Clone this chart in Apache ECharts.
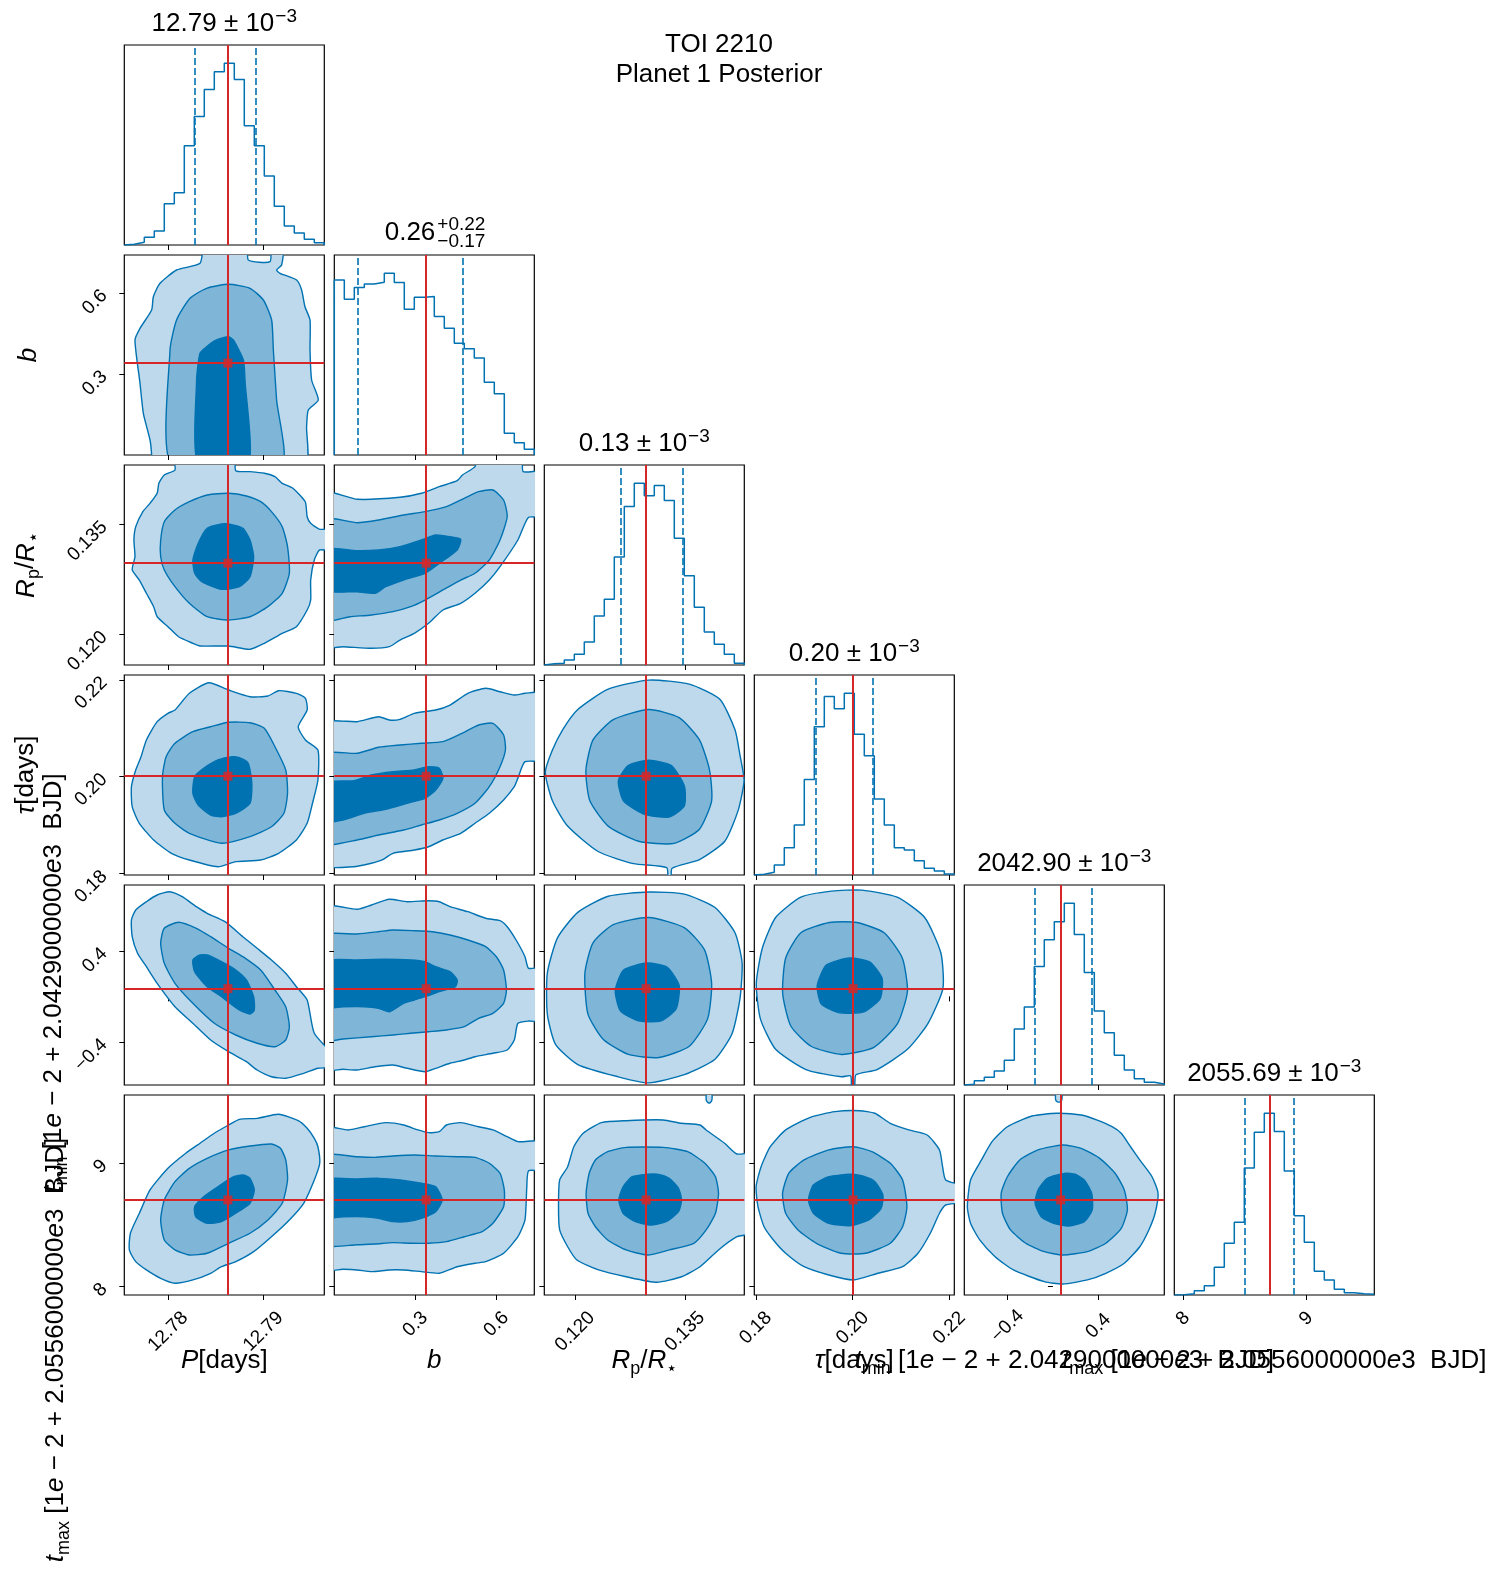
<!DOCTYPE html>
<html><head><meta charset="utf-8">
<script src="https://cdn.jsdelivr.net/npm/echarts@6/dist/echarts.min.js"></script>
<style>html,body{margin:0;padding:0;background:#fff}#chart{width:1505px;height:1590px}</style>
</head><body><div id="chart"></div>
<script>
const FONT = "'Liberation Sans', Arial, sans-serif";
const BLUE = '#0072b2', RED = '#d62728';
const FILLS = ['#bed9eb', '#7fb6d8', '#0072b2'];

// ---- parameters ----
const paramKeys = ['P', 'b', 'Rp', 'tau', 'tmin', 'tmax'];
const axisRanges = [[12.7754, 12.7964], [0, 0.74], [0.1158, 0.1431], [0.1797, 0.2210], [-0.78, 0.98], [7.93, 9.55]];
const tickValues = [[12.78, 12.79], [0.3, 0.6], [0.120, 0.135], [0.18, 0.20, 0.22], [-0.4, 0.4], [8, 9]];
const tickDecimals = [2, 1, 3, 2, 1, 0];
const truths = [12.78628, 0.34, 0.1297, 0.2001, 0.068, 8.70];
const quantiles = [[12.78282, 12.7892], [0.0866, 0.4751], [0.12627, 0.13473], [0.19244, 0.20421], [-0.158, 0.344], [8.499, 8.898]];

// ---- titles ----
const mainTitle = ['TOI 2210', 'Planet 1 Posterior'];
const diagTitleMain = ['12.79', '0.26', '0.13', '0.20', '2042.90', '2055.69'];
const bErrPlus = '+0.22', bErrMinus = '\u22120.17';

// ---- histograms (20 equal bins over each axis range) ----
const hist_P = [7, 27, 77, 140, 413, 523, 993, 1287, 1557, 1733, 1820, 1657, 1193, 993, 690, 387, 190, 120, 57, 23];
const hist_b = [1750, 1557, 1673, 1710, 1727, 1817, 1723, 1457, 1577, 1583, 1383, 1267, 1117, 1063, 970, 727, 613, 217, 123, 57];
const hist_Rp = [13, 17, 50, 107, 230, 490, 657, 1080, 1587, 1820, 1693, 1797, 1647, 1270, 893, 577, 330, 207, 107, 17];
const hist_tau = [7, 27, 100, 273, 500, 957, 1483, 1787, 1663, 1820, 1410, 1193, 760, 500, 273, 250, 143, 67, 40, 10];
const hist_tmin = [7, 43, 77, 140, 247, 560, 780, 1187, 1453, 1633, 1820, 1507, 1127, 740, 523, 297, 150, 63, 27, 10];
const hist_tmax = [3, 13, 43, 93, 277, 517, 727, 1270, 1627, 1817, 1633, 1240, 793, 527, 237, 150, 57, 23, 13, 7];

// ---- contour polygons [outer, middle, inner, (optional small outer islands)], data units ----
const cont_P_b = [
 [[12.77827,-0.037],[12.77827,0],[12.7781,0.0555],[12.7774,0.1543],[12.77705,0.2653],[12.77652,0.4255],[12.77705,0.4688],[12.77827,0.5365],[12.77845,0.5857],[12.77915,0.6353],[12.78089,0.6845],[12.78335,0.7093],[12.78387,0.777],[12.78824,0.777],[12.78842,0.7215],[12.7907,0.7152],[12.79087,0.777],[12.7921,0.777],[12.79192,0.703],[12.79139,0.6845],[12.79175,0.6723],[12.79349,0.6475],[12.79402,0.6105],[12.79437,0.5487],[12.7949,0.4995],[12.7949,0.3885],[12.79507,0.2775],[12.79577,0.2035],[12.79472,0.1665],[12.79454,0.1047],[12.79437,-0.037]],
 [[12.78037,-0.037],[12.7802,0.3885],[12.78089,0.4995],[12.7823,0.5798],[12.78404,0.6168],[12.78632,0.6316],[12.7886,0.6168],[12.79,0.5735],[12.79087,0.4995],[12.79105,0.3885],[12.79139,0.2035],[12.79192,-0.037]],
 [[12.78317,-0.037],[12.78299,0.2775],[12.78335,0.3763],[12.78404,0.4007],[12.78509,0.4255],[12.78632,0.4377],[12.78685,0.4255],[12.7879,0.3515],[12.78807,0.2775],[12.78842,-0.037]]
];
const cont_P_Rp = [
 [[12.78072,0.14447],[12.78072,0.14242],[12.7796,0.14174],[12.77903,0.1406],[12.77885,0.13924],[12.7781,0.13787],[12.77735,0.13673],[12.7766,0.13468],[12.77641,0.13286],[12.77652,0.13058],[12.77623,0.12877],[12.77698,0.1274],[12.77772,0.12559],[12.77848,0.12376],[12.77885,0.12239],[12.77998,0.12103],[12.7811,0.11966],[12.7826,0.11876],[12.78335,0.11839],[12.78635,0.11839],[12.7886,0.11794],[12.7901,0.11876],[12.79198,0.12013],[12.79347,0.12103],[12.7946,0.12331],[12.79497,0.12467],[12.79497,0.1274],[12.79535,0.13013],[12.79592,0.1315],[12.79745,0.1315],[12.79745,0.13432],[12.79592,0.13432],[12.79497,0.13514],[12.7946,0.13604],[12.7944,0.13809],[12.7931,0.13992],[12.79198,0.1406],[12.79122,0.1415],[12.7901,0.14197],[12.7886,0.14219],[12.7871,0.14232],[12.78691,0.14447]],
 [[12.78635,0.13924],[12.7841,0.13901],[12.78223,0.13809],[12.78072,0.13696],[12.7796,0.13536],[12.77922,0.13286],[12.77922,0.13058],[12.7796,0.12877],[12.78072,0.12649],[12.78223,0.12422],[12.7841,0.12239],[12.78635,0.12194],[12.7886,0.12239],[12.79048,0.12376],[12.79198,0.12559],[12.79273,0.12832],[12.79254,0.13195],[12.79198,0.13468],[12.79085,0.13673],[12.78972,0.13809],[12.78822,0.13887]],
 [[12.7856,0.13505],[12.7841,0.13446],[12.78316,0.13241],[12.7826,0.13013],[12.78279,0.12832],[12.78354,0.12717],[12.7856,0.12613],[12.78748,0.12649],[12.7886,0.12785],[12.78898,0.13058],[12.7886,0.13286],[12.78785,0.13446],[12.78635,0.13505]]
];
const cont_b_Rp = [
 [[-0.037,0.13924],[0.0847,0.13842],[0.2431,0.13869],[0.3223,0.13924],[0.3885,0.14014],[0.4547,0.14096],[0.4743,0.14174],[0.5206,0.14287],[0.5339,0.14447],[0.6923,0.14447],[0.6989,0.14219],[0.777,0.14219],[0.777,0.13604],[0.7189,0.13596],[0.6793,0.13286],[0.6131,0.12922],[0.5735,0.1274],[0.5206,0.12559],[0.4677,0.12422],[0.4018,0.12331],[0.3489,0.12149],[0.296,0.12013],[0.2431,0.11921],[0.2035,0.1183],[0.1373,0.11808],[0.0318,0.1183],[-0.037,0.1183]],
 [[-0.037,0.13559],[0.0847,0.13522],[0.1639,0.13559],[0.2564,0.13628],[0.3356,0.13673],[0.4148,0.13741],[0.481,0.13855],[0.5339,0.13946],[0.5868,0.13969],[0.6264,0.13832],[0.6397,0.13604],[0.6131,0.13286],[0.5735,0.13013],[0.5206,0.12832],[0.4677,0.1274],[0.4018,0.12604],[0.3356,0.12467],[0.2827,0.12376],[0.2168,0.12308],[0.1373,0.12263],[0.0581,0.12239],[-0.037,0.12194]],
 [[-0.037,0.13159],[0.0847,0.1314],[0.1639,0.1315],[0.2431,0.13195],[0.3223,0.13286],[0.3752,0.13355],[0.4281,0.13331],[0.4677,0.13296],[0.4547,0.1315],[0.3885,0.12968],[0.3356,0.12832],[0.2564,0.1274],[0.1902,0.12649],[0.1506,0.12559],[0.0847,0.1258],[-0.037,0.12604]]
];
const cont_P_tau = [
 [[12.78428,0.21941],[12.78223,0.21722],[12.78072,0.21377],[12.77998,0.21309],[12.77885,0.21136],[12.77772,0.20758],[12.77716,0.20413],[12.7766,0.20138],[12.77615,0.19793],[12.77623,0.1938],[12.77698,0.19038],[12.77848,0.18693],[12.78035,0.18418],[12.78223,0.1828],[12.78523,0.18141],[12.7871,0.18245],[12.78972,0.1828],[12.7916,0.18418],[12.79347,0.18693],[12.7946,0.19038],[12.79516,0.19451],[12.79573,0.19932],[12.79573,0.20551],[12.79442,0.20758],[12.79366,0.21032],[12.7946,0.21377],[12.79442,0.21619],[12.79347,0.21722],[12.7916,0.21776],[12.79048,0.21666],[12.7886,0.21652],[12.78635,0.2179]],
 [[12.78635,0.21123],[12.78447,0.21032],[12.7826,0.20929],[12.78072,0.2069],[12.77979,0.20413],[12.77941,0.2],[12.7796,0.19312],[12.78072,0.19038],[12.78223,0.18831],[12.7856,0.18625],[12.7886,0.18761],[12.79085,0.18967],[12.79216,0.19244],[12.79254,0.19657],[12.79235,0.20138],[12.79122,0.20619],[12.7901,0.20999],[12.7886,0.21115]],
 [[12.78673,0.20413],[12.78523,0.20345],[12.78373,0.20173],[12.78279,0.2],[12.7826,0.19657],[12.78316,0.19416],[12.78447,0.19209],[12.7856,0.19174],[12.7871,0.19244],[12.7886,0.19451],[12.78879,0.19864],[12.78841,0.20277],[12.78748,0.20392]]
];
const cont_b_tau = [
 [[-0.037,0.21103],[0.0847,0.21136],[0.1639,0.21239],[0.2035,0.21171],[0.2431,0.21185],[0.296,0.21309],[0.3752,0.21377],[0.4281,0.2148],[0.4943,0.21722],[0.5602,0.21825],[0.6131,0.21755],[0.666,0.21687],[0.7056,0.21722],[0.777,0.21722],[0.777,0.20345],[0.7056,0.2031],[0.6793,0.1997],[0.666,0.19793],[0.6264,0.19519],[0.5735,0.19244],[0.5206,0.19038],[0.4677,0.18831],[0.4018,0.18693],[0.3489,0.18554],[0.296,0.18486],[0.2168,0.18418],[0.1772,0.1828],[0.1373,0.18212],[0.0714,0.18141],[-0.037,0.18177]],
 [[-0.037,0.20462],[0.0847,0.20483],[0.1639,0.20607],[0.2431,0.20654],[0.3223,0.2069],[0.4018,0.20723],[0.4677,0.20882],[0.5339,0.21068],[0.5868,0.21103],[0.6264,0.20861],[0.6331,0.20551],[0.6131,0.20206],[0.5735,0.19793],[0.5206,0.19451],[0.4547,0.19244],[0.3885,0.19106],[0.3223,0.19003],[0.2564,0.18899],[0.1639,0.18796],[0.0847,0.18693],[-0.037,0.18625]],
 [[-0.037,0.19864],[0.0714,0.19917],[0.1373,0.20035],[0.2168,0.20103],[0.296,0.20138],[0.3489,0.20206],[0.3885,0.20173],[0.4018,0.19967],[0.3752,0.19725],[0.3356,0.19554],[0.2697,0.19451],[0.1902,0.19327],[0.111,0.19244],[0.0318,0.19106],[-0.037,0.19071]]
];
const cont_Rp_tau = [
 [[0.13006,0.21995],[0.12452,0.21807],[0.12037,0.21388],[0.1183,0.20968],[0.11691,0.20549],[0.11594,0.20089],[0.11691,0.19502],[0.11898,0.1898],[0.12314,0.18455],[0.12798,0.18205],[0.1325,0.1812],[0.1327,0.1785],[0.1331,0.1785],[0.13325,0.1811],[0.13698,0.18288],[0.14044,0.18666],[0.14224,0.19294],[0.14307,0.19921],[0.14251,0.20446],[0.14183,0.20968],[0.13976,0.21598],[0.13559,0.21912]],
 [[0.13006,0.21388],[0.12522,0.21179],[0.12245,0.2076],[0.12148,0.20132],[0.12202,0.19502],[0.12452,0.1898],[0.12867,0.18666],[0.13352,0.18622],[0.13698,0.18916],[0.13864,0.19502],[0.13836,0.20132],[0.13698,0.2076],[0.13421,0.2122]],
 [[0.13006,0.20341],[0.12729,0.20235],[0.12591,0.19921],[0.1266,0.19502],[0.12937,0.1923],[0.13282,0.19168],[0.13491,0.19397],[0.13491,0.19816],[0.1331,0.20235]]
];
const cont_P_tmin = [
 [[12.78017,0.921],[12.77885,0.892],[12.77772,0.833],[12.7766,0.76],[12.77615,0.672],[12.77623,0.525],[12.77679,0.379],[12.77772,0.261],[12.77885,0.115],[12.78072,-0.091],[12.7826,-0.237],[12.78447,-0.384],[12.78635,-0.487],[12.78822,-0.575],[12.78935,-0.648],[12.79085,-0.707],[12.79235,-0.721],[12.79423,-0.677],[12.79573,-0.633],[12.79745,-0.619],[12.79745,-0.531],[12.79535,-0.325],[12.7946,-0.032],[12.79347,0.085],[12.79235,0.203],[12.79085,0.32],[12.78935,0.423],[12.78785,0.525],[12.78597,0.657],[12.7841,0.731],[12.78297,0.789],[12.78148,0.877]],
 [[12.7811,0.652],[12.7796,0.599],[12.77922,0.467],[12.7796,0.291],[12.78072,0.115],[12.7826,-0.061],[12.78485,-0.237],[12.7871,-0.34],[12.78935,-0.413],[12.79122,-0.443],[12.79235,-0.384],[12.79273,-0.267],[12.79235,-0.091],[12.79122,0.056],[12.78972,0.232],[12.78785,0.349],[12.78635,0.423],[12.78447,0.525],[12.78297,0.599]],
 [[12.78335,0.364],[12.7826,0.32],[12.78279,0.217],[12.7841,0.085],[12.7856,-0.003],[12.78748,-0.12],[12.7886,-0.155],[12.78905,-0.12],[12.78898,-0.003],[12.78822,0.144],[12.7871,0.232],[12.7856,0.305],[12.7841,0.364]]
];
const cont_b_tmin = [
 [[-0.037,0.784],[0.0847,0.766],[0.1373,0.804],[0.2035,0.854],[0.2697,0.833],[0.3489,0.842],[0.3885,0.833],[0.4281,0.789],[0.4943,0.745],[0.5602,0.687],[0.6131,0.666],[0.6397,0.613],[0.6727,0.496],[0.7056,0.349],[0.7189,0.247],[0.777,0.247],[0.777,-0.214],[0.7189,-0.217],[0.6793,-0.237],[0.666,-0.384],[0.6397,-0.472],[0.5868,-0.501],[0.5206,-0.531],[0.481,-0.56],[0.4281,-0.589],[0.3752,-0.633],[0.3356,-0.663],[0.2697,-0.633],[0.2168,-0.604],[0.1506,-0.619],[0.0847,-0.648],[0.0318,-0.642],[-0.037,-0.642]],
 [[-0.037,0.531],[0.0847,0.549],[0.1639,0.569],[0.2168,0.584],[0.296,0.578],[0.3622,0.569],[0.4281,0.54],[0.4943,0.496],[0.5602,0.437],[0.5998,0.349],[0.6264,0.232],[0.6368,0.056],[0.6264,-0.061],[0.5868,-0.149],[0.5339,-0.193],[0.481,-0.267],[0.4148,-0.296],[0.3489,-0.311],[0.2827,-0.325],[0.2168,-0.34],[0.1373,-0.355],[0.0318,-0.375],[-0.037,-0.384]],
 [[-0.037,0.305],[0.0847,0.32],[0.1902,0.326],[0.2827,0.32],[0.3356,0.305],[0.3752,0.261],[0.4281,0.217],[0.4547,0.144],[0.4481,0.085],[0.3885,0.041],[0.3356,-0.003],[0.296,-0.032],[0.2564,-0.061],[0.2035,-0.135],[0.1639,-0.105],[0.111,-0.091],[0.0318,-0.091],[-0.037,-0.096]]
];
const cont_Rp_tmin = [
 [[0.13006,0.918],[0.12452,0.881],[0.12037,0.739],[0.1176,0.515],[0.11621,0.203],[0.11621,-0.154],[0.11733,-0.422],[0.12037,-0.6],[0.12591,-0.708],[0.13006,-0.761],[0.13491,-0.689],[0.13906,-0.556],[0.14141,-0.332],[0.14251,-0.02],[0.1428,0.293],[0.14183,0.56],[0.13906,0.784],[0.13491,0.9]],
 [[0.13006,0.694],[0.12522,0.632],[0.12245,0.471],[0.12134,0.203],[0.12175,-0.154],[0.12383,-0.377],[0.12729,-0.511],[0.13144,-0.538],[0.13559,-0.439],[0.13809,-0.198],[0.13864,0.114],[0.13767,0.409],[0.1349,0.605]],
 [[0.12979,0.293],[0.1266,0.23],[0.12549,0.052],[0.12619,-0.127],[0.12867,-0.216],[0.13172,-0.216],[0.1338,-0.109],[0.13421,0.096],[0.13255,0.257]]
];
const cont_tau_tmin = [
 [[0.19562,0.926],[0.18932,0.873],[0.1841,0.694],[0.18137,0.426],[0.18011,0.114],[0.18096,-0.198],[0.1841,-0.466],[0.19038,-0.644],[0.19771,-0.707],[0.1996,-0.70],[0.1998,-0.79],[0.2004,-0.79],[0.2007,-0.69],[0.20504,-0.644],[0.21132,-0.466],[0.21551,-0.243],[0.21865,0.069],[0.21823,0.382],[0.21489,0.694],[0.2092,0.873],[0.2019,0.935]],
 [[0.19521,0.65],[0.18932,0.56],[0.18618,0.338],[0.18556,0.025],[0.18724,-0.261],[0.19143,-0.439],[0.19771,-0.511],[0.2044,-0.448],[0.20923,-0.243],[0.21132,0.043],[0.21026,0.338],[0.2065,0.56],[0.20085,0.65]],
 [[0.19938,0.338],[0.19457,0.275],[0.19269,0.096],[0.19351,-0.065],[0.19729,-0.145],[0.20233,-0.136],[0.20568,-0.02],[0.20609,0.159],[0.20357,0.302]]
];
const cont_P_tmax = [
 [[12.7916,9.394],[12.78935,9.361],[12.78748,9.353],[12.78635,9.307],[12.78485,9.24],[12.78335,9.159],[12.78185,9.078],[12.77998,8.956],[12.7781,8.781],[12.77698,8.592],[12.77604,8.43],[12.77593,8.295],[12.7766,8.2],[12.77772,8.133],[12.77922,8.065],[12.78072,8.025],[12.7826,8.052],[12.78447,8.106],[12.7856,8.159],[12.7871,8.2],[12.78898,8.281],[12.79085,8.402],[12.79273,8.538],[12.79423,8.673],[12.79535,8.862],[12.79592,8.997],[12.79573,9.131],[12.79535,9.199],[12.7946,9.28],[12.79366,9.342]],
 [[12.79085,9.153],[12.7886,9.137],[12.78635,9.105],[12.7841,9.037],[12.78223,8.956],[12.78072,8.848],[12.7796,8.7],[12.77922,8.538],[12.7796,8.376],[12.78072,8.295],[12.78223,8.254],[12.7841,8.268],[12.78635,8.349],[12.7886,8.43],[12.79048,8.538],[12.79198,8.673],[12.79254,8.862],[12.79235,9.024],[12.7918,9.118]],
 [[12.78785,8.902],[12.78673,8.883],[12.78523,8.807],[12.78373,8.726],[12.78279,8.645],[12.7829,8.564],[12.7841,8.511],[12.7856,8.524],[12.7871,8.592],[12.7886,8.673],[12.78905,8.78],[12.7886,8.875]]
];
const cont_b_tmax = [
 [[-0.037,9.28],[0.0514,9.267],[0.111,9.293],[0.1902,9.326],[0.2564,9.307],[0.3093,9.267],[0.3489,9.245],[0.3885,9.253],[0.4148,9.307],[0.4677,9.326],[0.5339,9.293],[0.5868,9.267],[0.6397,9.212],[0.6793,9.172],[0.777,9.172],[0.777,8.943],[0.7189,8.937],[0.7123,8.807],[0.7056,8.538],[0.6793,8.402],[0.6264,8.268],[0.5602,8.2],[0.5206,8.187],[0.4547,8.159],[0.3885,8.106],[0.3223,8.119],[0.2564,8.133],[0.2035,8.133],[0.1373,8.119],[0.0847,8.133],[0.0318,8.138],[-0.037,8.138]],
 [[-0.037,9.056],[0.0847,9.05],[0.1506,9.045],[0.2168,9.056],[0.296,9.064],[0.3752,9.056],[0.4547,9.05],[0.5206,9.045],[0.5735,8.997],[0.6131,8.916],[0.629,8.781],[0.6264,8.645],[0.5868,8.511],[0.5472,8.443],[0.481,8.402],[0.4148,8.362],[0.3489,8.349],[0.2827,8.349],[0.2168,8.354],[0.1506,8.343],[0.0847,8.337],[-0.037,8.341]],
 [[-0.037,8.862],[0.0847,8.87],[0.1639,8.875],[0.2431,8.862],[0.3223,8.835],[0.3752,8.807],[0.3992,8.7],[0.3752,8.605],[0.3223,8.551],[0.2697,8.524],[0.2168,8.524],[0.1639,8.551],[0.111,8.564],[0.0318,8.564],[-0.037,8.559]]
];
const cont_Rp_tmax = [
 [[0.12361,9.326],[0.1211,9.24],[0.11983,9.131],[0.11899,8.969],[0.1179,8.862],[0.11774,8.645],[0.1179,8.457],[0.11899,8.321],[0.12025,8.214],[0.1232,8.133],[0.12697,8.078],[0.13117,8.033],[0.13453,8.078],[0.13705,8.159],[0.13958,8.295],[0.14209,8.402],[0.14447,8.443],[0.14447,9.072],[0.14209,9.072],[0.14041,9.159],[0.13789,9.267],[0.13705,9.307],[0.13453,9.321],[0.13202,9.348],[0.12697,9.342]],
 [[0.12697,9.126],[0.12445,9.091],[0.12278,9.024],[0.12193,8.916],[0.12151,8.754],[0.12177,8.592],[0.12278,8.483],[0.12445,8.376],[0.12697,8.295],[0.12991,8.254],[0.13285,8.295],[0.13621,8.349],[0.13789,8.457],[0.13916,8.592],[0.13958,8.754],[0.13916,8.888],[0.13772,8.997],[0.13537,9.091],[0.13202,9.126]],
 [[0.12991,8.908],[0.12781,8.888],[0.12656,8.807],[0.12597,8.7],[0.12656,8.592],[0.12824,8.524],[0.13034,8.497],[0.13243,8.524],[0.13412,8.605],[0.13453,8.7],[0.13412,8.794],[0.13285,8.875],[0.13117,8.908]],
 [[0.13795,9.56],[0.1379,9.51],[0.13815,9.488],[0.13845,9.488],[0.13868,9.51],[0.13862,9.56]]
];
const cont_tau_tmax = [
 [[0.20142,9.423],[0.19634,9.415],[0.19126,9.369],[0.18618,9.267],[0.183,9.131],[0.1811,8.969],[0.18007,8.807],[0.18046,8.645],[0.18172,8.483],[0.18364,8.376],[0.18618,8.268],[0.18998,8.159],[0.19508,8.092],[0.20016,8.052],[0.20524,8.106],[0.21032,8.159],[0.2135,8.268],[0.21604,8.43],[0.21794,8.592],[0.21922,8.659],[0.22307,8.686],[0.22307,8.807],[0.21922,8.862],[0.21858,8.969],[0.21794,9.105],[0.2154,9.226],[0.2116,9.267],[0.20778,9.321],[0.2046,9.402]],
 [[0.20016,9.131],[0.19508,9.105],[0.18998,9.024],[0.18682,8.916],[0.18554,8.754],[0.18618,8.592],[0.18872,8.457],[0.19254,8.349],[0.19762,8.268],[0.2027,8.268],[0.20778,8.349],[0.21032,8.483],[0.21121,8.645],[0.21032,8.862],[0.20778,8.997],[0.20396,9.091]],
 [[0.19952,8.908],[0.19508,8.888],[0.1919,8.821],[0.19089,8.7],[0.1919,8.592],[0.19508,8.511],[0.19952,8.491],[0.20334,8.538],[0.20588,8.632],[0.20626,8.74],[0.2046,8.848],[0.20206,8.894]]
];
const cont_tmin_tmax = [
 [[0.032,9.402],[-0.184,9.38],[-0.401,9.293],[-0.536,9.172],[-0.629,9.024],[-0.725,8.862],[-0.753,8.645],[-0.725,8.511],[-0.644,8.376],[-0.509,8.24],[-0.347,8.133],[-0.076,8.038],[0.087,8.019],[0.303,8.052],[0.465,8.106],[0.628,8.187],[0.764,8.321],[0.844,8.457],[0.899,8.592],[0.925,8.754],[0.872,8.888],[0.764,9.024],[0.683,9.131],[0.601,9.24],[0.52,9.293],[0.384,9.348],[0.249,9.388]],
 [[0.087,9.145],[-0.131,9.105],[-0.292,9.024],[-0.401,8.888],[-0.455,8.754],[-0.444,8.592],[-0.373,8.457],[-0.239,8.349],[-0.076,8.281],[0.087,8.254],[0.303,8.281],[0.465,8.349],[0.601,8.47],[0.655,8.619],[0.628,8.78],[0.547,8.916],[0.412,9.037],[0.249,9.118]],
 [[0.113,8.916],[-0.049,8.875],[-0.131,8.78],[-0.157,8.673],[-0.103,8.564],[0.005,8.511],[0.14,8.489],[0.276,8.524],[0.346,8.619],[0.341,8.754],[0.276,8.862],[0.195,8.908]],
 [[0.026,9.56],[0.024,9.51],[0.04,9.495],[0.065,9.495],[0.078,9.51],[0.076,9.56]]
];

// ---- axis label texts (rich) ----
const axisNameTexts = [
  '{i|P}{m|[days]}',
  '{i|b}',
  '{i|R}{sub|p}{m|/}{i|R}{sub|\u22c6}',
  '{i|\u03c4}{m|[days]}',
  '{i|t}{sub|min}{m| [1}{i|e}{m| \u2212 2 + 2.0429000000}{i|e}{m|3  BJD]}',
  '{i|t}{sub|max}{m| [1}{i|e}{m| \u2212 2 + 2.0556000000}{i|e}{m|3  BJD]}'
];

// ---- layout / style constants ----
const LAY = { left0: 124.3, top0: 45, step: 210, size: 200 };
const xLabelMargin = [36.6, 29.2, 36.6, 32.9, 31, 23.5];
const yLabelMargin = 20;
const yNameGap = [83, 82, 84, 84, 56, 56];
const yNameGraphic = { 4: { x: 68, y: 983 }, 5: { x: 70, y: 1350 } };

const contours = {
  '1_0': cont_P_b, '2_0': cont_P_Rp, '2_1': cont_b_Rp,
  '3_0': cont_P_tau, '3_1': cont_b_tau, '3_2': cont_Rp_tau,
  '4_0': cont_P_tmin, '4_1': cont_b_tmin, '4_2': cont_Rp_tmin, '4_3': cont_tau_tmin,
  '5_0': cont_P_tmax, '5_1': cont_b_tmax, '5_2': cont_Rp_tmax, '5_3': cont_tau_tmax, '5_4': cont_tmin_tmax
};
const hists = [hist_P, hist_b, hist_Rp, hist_tau, hist_tmin, hist_tmax];

const richStyles = (colorKey) => ({
  m: { fontSize: 26, fontFamily: FONT, [colorKey]: '#000', verticalAlign: 'top', lineHeight: 30, padding: [3, 0, 0, 0] },
  i: { fontSize: 26, fontFamily: FONT, fontStyle: 'italic', [colorKey]: '#000', verticalAlign: 'top', lineHeight: 30, padding: [3, 0, 0, 0] },
  sub: { fontSize: 18, fontFamily: FONT, [colorKey]: '#000', verticalAlign: 'top', lineHeight: 30, padding: [15, 0, 0, 0] },
  sup: { fontSize: 19, fontFamily: FONT, [colorKey]: '#000', verticalAlign: 'top', lineHeight: 30, padding: [0, 0, 0, 1] }
});

function fmt(v, p) {
  return Number(v).toFixed(tickDecimals[p]).replace('-', '\u2212');
}

function makeAxis(dir, p, g, showLabels, withName) {
  const ax = {
    type: 'value', gridIndex: g, min: axisRanges[p][0], max: axisRanges[p][1],
    axisLine: { show: false }, splitLine: { show: false },
    axisTick: { show: true, inside: false, length: 5, customValues: tickValues[p], lineStyle: { color: '#000', width: 1 } },
    axisLabel: {
      show: showLabels, customValues: tickValues[p], formatter: (v) => fmt(v, p), rotate: 45,
      fontSize: 19, fontFamily: FONT, color: '#000', hideOverlap: false,
      margin: dir === 'x' ? xLabelMargin[p] : yLabelMargin
    },
    nameMoveOverlap: false
  };
  if (dir === 'x') { ax.axisLabel.align = 'center'; ax.axisLabel.verticalAlign = 'middle'; }
  if (withName) {
    ax.name = axisNameTexts[p];
    ax.nameLocation = 'middle';
    ax.nameTextStyle = { fontSize: 26, fontFamily: FONT, color: '#000', rich: richStyles('color') };
    if (dir === 'x') ax.nameGap = 50;
    else { ax.nameGap = yNameGap[p]; ax.nameRotate = 90; }
  }
  return ax;
}

const grids = [], xAxes = [], yAxes = [], series = [];
let g = 0;
for (let r = 0; r < 6; r++) {
  for (let c = 0; c <= r; c++) {
    grids.push({
      left: LAY.left0 + LAY.step * c, top: LAY.top0 + LAY.step * r, width: LAY.size, height: LAY.size,
      show: true, borderColor: '#000', borderWidth: 1.2, backgroundColor: 'transparent',
      containLabel: false, outerBoundsMode: 'none'
    });
    xAxes.push(makeAxis('x', c, g, r === 5, r === 5));
    if (r === c) {
      const h = hists[c];
      yAxes.push({ type: 'value', gridIndex: g, min: 0, max: Math.max(...h) * 1.1, show: false });
      const lo = axisRanges[c][0], hi = axisRanges[c][1], w = (hi - lo) / h.length;
      const pts = [[lo, 0]];
      h.forEach((v, i) => pts.push([lo + i * w, v]));
      pts.push([hi, h[h.length - 1]]);
      pts.push([hi, 0]);
      series.push({
        type: 'line', xAxisIndex: g, yAxisIndex: g, step: 'end', symbol: 'none', showSymbol: false,
        data: pts, lineStyle: { color: BLUE, width: 1.5 }, silent: true, z: 2, animation: false,
        markLine: {
          silent: true, symbol: ['none', 'none'], label: { show: false }, animation: false, precision: 10,
          data: [
            { xAxis: quantiles[c][0], lineStyle: { color: BLUE, width: 1.6, type: [7, 3] } },
            { xAxis: quantiles[c][1], lineStyle: { color: BLUE, width: 1.6, type: [7, 3] } },
            { xAxis: truths[c], lineStyle: { color: RED, width: 2, type: 'solid' } }
          ]
        }
      });
    } else {
      const useAxisName = c === 0 && !(r in yNameGraphic);
      yAxes.push(makeAxis('y', r, g, c === 0, useAxisName));
      const polys = contours[r + '_' + c];
      series.push({
        type: 'custom', xAxisIndex: g, yAxisIndex: g, clip: true, silent: true, z: 1, animation: false,
        data: polys.map((p, i) => [p[0][0], p[0][1], i]),
        renderItem: (params, api) => {
          const i = params.dataIndex;
          const poly = polys[i];
          return {
            type: 'polygon',
            shape: { points: poly.map(pt => api.coord(pt)), smooth: 0.2 },
            style: { fill: FILLS[i > 2 ? 0 : i], stroke: BLUE, lineWidth: 1.4 }
          };
        }
      });
      series.push({
        type: 'scatter', xAxisIndex: g, yAxisIndex: g, z: 5, silent: true, animation: false,
        symbol: 'rect', symbolSize: 9, itemStyle: { color: RED },
        data: [[truths[c], truths[r]]],
        markLine: {
          silent: true, symbol: ['none', 'none'], label: { show: false }, animation: false, precision: 10,
          lineStyle: { color: RED, width: 2, type: 'solid' },
          data: [{ xAxis: truths[c] }, { yAxis: truths[r] }]
        }
      });
    }
    g++;
  }
}

// ---- text elements ----
const graphics = [];
const titleCx = 719;
graphics.push({ type: 'text', x: titleCx, y: 45, style: { text: mainTitle[0], fontSize: 26, fontFamily: FONT, fill: '#000', align: 'center', verticalAlign: 'middle' } });
graphics.push({ type: 'text', x: titleCx, y: 74.5, style: { text: mainTitle[1], fontSize: 26, fontFamily: FONT, fill: '#000', align: 'center', verticalAlign: 'middle' } });
for (let j = 0; j < 6; j++) {
  const cx = LAY.left0 + LAY.step * j + LAY.size / 2;
  const cy = LAY.top0 + LAY.step * j - 22.5;
  if (j === 1) {
    graphics.push({ type: 'text', x: cx + 1, y: cy + 0.5, style: { text: diagTitleMain[j], fontSize: 26, fontFamily: FONT, fill: '#000', align: 'right', verticalAlign: 'middle' } });
    graphics.push({ type: 'text', x: cx + 3, y: cy - 8, style: { text: bErrPlus, fontSize: 19, fontFamily: FONT, fill: '#000', align: 'left', verticalAlign: 'middle' } });
    graphics.push({ type: 'text', x: cx + 3, y: cy + 9.5, style: { text: bErrMinus, fontSize: 19, fontFamily: FONT, fill: '#000', align: 'left', verticalAlign: 'middle' } });
  } else {
    graphics.push({
      type: 'text', x: cx, y: cy,
      style: { text: '{m|' + diagTitleMain[j] + ' \u00b1 10}{sup|\u22123}', rich: richStyles('fill'), align: 'center', verticalAlign: 'middle' }
    });
  }
}
Object.keys(yNameGraphic).forEach(k => {
  const pos = yNameGraphic[k];
  graphics.push({
    type: 'text', x: pos.x, y: pos.y, rotation: Math.PI / 2,
    style: { text: axisNameTexts[k], rich: richStyles('fill'), align: 'center', verticalAlign: 'bottom' }
  });
});

const chart = echarts.init(document.getElementById('chart'), null, { renderer: 'canvas' });
chart.setOption({
  animation: false,
  backgroundColor: '#fff',
  textStyle: { fontFamily: FONT },
  grid: grids, xAxis: xAxes, yAxis: yAxes, series: series,
  graphic: graphics
});
</script>
</body></html>
